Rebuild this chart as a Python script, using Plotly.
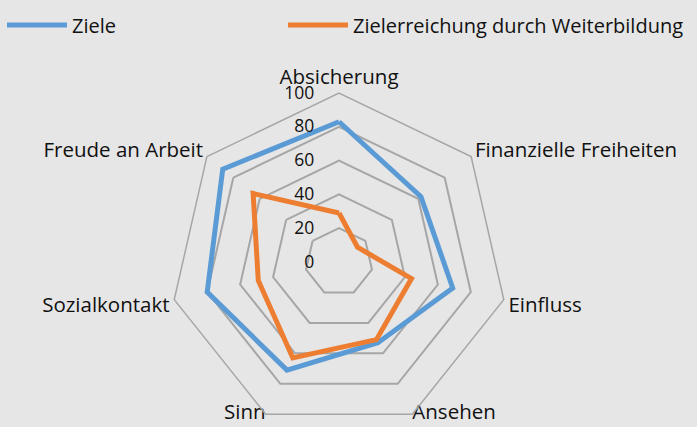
import plotly.graph_objects as go

categories = ["Absicherung", "Finanzielle Freiheiten", "Einfluss", "Ansehen",
              "Sinn", "Sozialkontakt", "Freude an Arbeit"]
ziele = [83, 62, 69, 53, 71, 80, 88]
zielerreichung = [29, 14, 44, 51, 63, 49, 65]
radial_ticks = [0, 20, 40, 60, 80, 100]
r_max = 100

# bottom category labels are drawn as text marks just beside the outer ring
bottom_labels = ["Ansehen", "Sinn"]
bottom_label_pos = ["middle right", "middle left"]

BLUE = "#5b9bd5"
ORANGE = "#ed7d31"
GRID = "#a6a6a6"
BG = "#e6e6e6"
FONT = "Open Sans"
TXT = "#111111"

W, H = 697, 435


def closed(v):
    return list(v) + [v[0]]


fig = go.Figure()
fig.add_trace(go.Scatterpolar(
    r=closed(ziele), theta=closed(categories), mode="lines",
    name="Ziele", line=dict(color=BLUE, width=5),
    showlegend=True, legend="legend"))
fig.add_trace(go.Scatterpolar(
    r=closed(zielerreichung), theta=closed(categories), mode="lines",
    name="Zielerreichung durch Weiterbildung", line=dict(color=ORANGE, width=5),
    showlegend=True, legend="legend2"))
fig.add_trace(go.Scatterpolar(
    r=[r_max] * len(bottom_labels), theta=bottom_labels, mode="text",
    text=bottom_labels, textposition=bottom_label_pos,
    textfont=dict(size=20.5, family=FONT, color=TXT),
    cliponaxis=False, showlegend=False, hoverinfo="skip"))

tick_text = ["" if c in bottom_labels else c for c in categories]

legend_common = dict(orientation="h", xref="container", yref="container",
                     xanchor="left", yanchor="top", itemwidth=60,
                     font=dict(size=20, family=FONT, color=TXT),
                     bgcolor="rgba(0,0,0,0)")

fig.update_layout(
    width=W, height=H,
    showlegend=True,
    margin=dict(l=0, r=19, t=93, b=4),
    paper_bgcolor=BG, plot_bgcolor=BG,
    font=dict(family=FONT, color=TXT, size=20),
    legend=dict(x=2 / W, y=1 - 5.5 / H, **legend_common),
    legend2=dict(x=283 / W, y=1 - 5.5 / H, **legend_common),
    polar=dict(
        bgcolor=BG,
        gridshape="linear",
        radialaxis=dict(range=[0, r_max], tickvals=radial_ticks, angle=90,
                        tickangle=90,
                        side="counterclockwise", showline=False,
                        gridcolor=GRID, gridwidth=1.5,
                        ticks="outside", ticklen=18,
                        tickcolor="rgba(0,0,0,0)",
                        tickfont=dict(size=17.5, family=FONT, color=TXT)),
        angularaxis=dict(direction="clockwise", rotation=90, showgrid=False,
                         linecolor=GRID, linewidth=1.5, ticks="",
                         tickvals=categories, ticktext=tick_text,
                         tickfont=dict(size=20.5, family=FONT, color=TXT)),
    ),
)

fig.write_html(
    "out.html",
    config={"displayModeBar": False},
    post_script="document.body.style.margin='0';"
                "document.body.style.overflow='hidden';"
                "document.documentElement.style.overflow='hidden';",
)
